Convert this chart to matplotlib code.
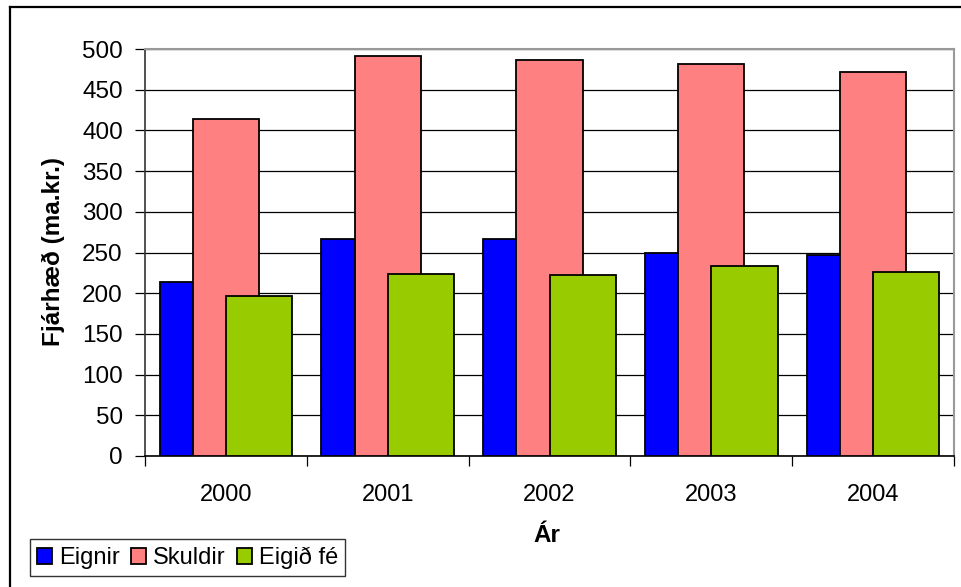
import matplotlib
matplotlib.use("Agg")
import matplotlib.pyplot as plt
from matplotlib.lines import Line2D
import numpy as np

years = ["2000", "2001", "2002", "2003", "2004"]
eignir = [214, 266, 266, 249, 247]
skuldir = [414, 492, 487, 482, 472]
eigid_fe = [197, 224, 222, 234, 226]
series_names = ["Eignir", "Skuldir", "Eigið fé"]
colors = ["#0000FF", "#FF8080", "#99CC00"]

plt.rcParams['font.family'] = ['Liberation Sans', 'DejaVu Sans']

W, H = 961, 587
fig = plt.figure(figsize=(W / 100, H / 100), dpi=100)
L, R, T, B = 145, 954, 49, 456
ax = fig.add_axes([L / W, 1 - B / H, (R - L) / W, (B - T) / H])

x = np.arange(len(years))
bw = 0.41
off = 0.205
for i, (vals, c, name) in enumerate(zip([eignir, skuldir, eigid_fe], colors, series_names)):
    ax.bar(x + (i - 1) * off, vals, width=bw, color=c, edgecolor="black",
           linewidth=1.3, label=name, zorder=3 + i)

ax.set_xlim(-0.5, len(years) - 0.5)
ax.set_ylim(0, 500)
ax.set_yticks(range(0, 501, 50))
ax.yaxis.grid(True, color="black", linewidth=0.9, zorder=0)
ax.set_axisbelow(True)

ax.set_xticks(x)
ax.set_xticklabels(years)
ax.set_xticks(np.arange(-0.5, len(years), 1), minor=True)
ax.tick_params(axis='x', which='major', length=0, pad=20, labelsize=17)
ax.tick_params(axis='x', which='minor', length=7, width=0.9, direction='out', color='black')
ax.tick_params(axis='y', length=7, width=0.9, direction='out', pad=9, labelsize=17.5)

for s in ['top', 'right']:
    ax.spines[s].set_color('#999999')
    ax.spines[s].set_linewidth(1.5)
ax.spines['left'].set_color('#333333')
ax.spines['left'].set_linewidth(1.2)
ax.spines['bottom'].set_color('black')
ax.spines['bottom'].set_linewidth(1.2)

fig.text(53 / W, 1 - 252 / H, "Fjárhæð (ma.kr.)", rotation=90, ha='center', va='center',
         fontsize=17.5, fontweight='bold')
fig.text(547 / W, 1 - 535 / H, "Ár", ha='center', va='center', fontsize=17.5, fontweight='bold')

leg = fig.legend(loc='lower left', bbox_to_anchor=(30 / W, 1 - 576 / H), ncol=3,
                 fontsize=17, frameon=True, fancybox=False, edgecolor='black',
                 handlelength=0.65, handleheight=0.65, handletextpad=0.3,
                 columnspacing=0.45, borderpad=0.3, borderaxespad=0)
leg.get_frame().set_linewidth(1.0)

fig.add_artist(Line2D([10 / W, 10 / W], [0, 1 - 7 / H], transform=fig.transFigure,
                      color='black', linewidth=1.6))
fig.add_artist(Line2D([10 / W, 1], [1 - 7 / H, 1 - 7 / H], transform=fig.transFigure,
                      color='black', linewidth=1.6))

fig.savefig("out.png", dpi=100)
